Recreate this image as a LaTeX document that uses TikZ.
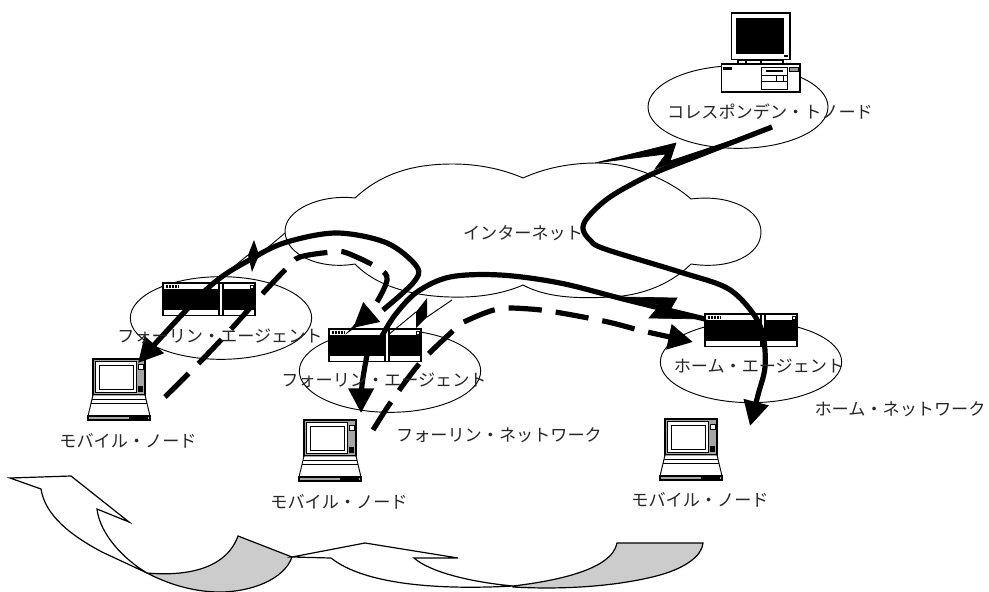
\documentclass[tikz,border=0pt]{standalone}
\usepackage{fontspec}
\setmainfont{Noto Sans CJK JP}
\usetikzlibrary{arrows.meta}
\tikzset{
  px/.style={x=0.75pt,y=-0.75pt},
  thinline/.style={draw=black,line width=0.7pt},
  thick link/.style={draw=black,line width=3.9pt,line join=round},
  dash link/.style={draw=black,line width=3.9pt,dash pattern=on 25pt off 10.5pt},
  tip/.style={-{Triangle[length=18.5pt,width=18.5pt]}},
  bolt/.style={fill=black,draw=black,line width=0.5pt,line join=miter},
  label/.style={font=\fontsize{12.85pt}{14pt}\selectfont,inner sep=0pt,text=black!85},
  ringnet/.style={thinline,ellipse},
  router/.style={draw=black,fill=white,line width=0.8pt,minimum width=69pt,minimum height=24.7pt,inner sep=0pt,outer sep=0pt},
  laptop/.style={draw=black,fill=black!35,line width=0.9pt,minimum width=39pt,minimum height=27pt,inner sep=0pt,outer sep=0pt},
  wave/.style={draw=black,line width=0.9pt,line join=miter,fill=white},
  waveshade/.style={draw=black,line width=0.9pt,line join=miter,fill=black!20}
}
\newcommand{\RouterAt}[3]{%
  \node[router,anchor=north west] (#1) at (#2,#3) {};
  \begin{scope}[shift={(#2,#3)}]
    \fill[black] (1,6) rectangle (56,27);
    \fill[black] (60,6) rectangle (91,27);
    \fill[black!45] (56,1) rectangle (57,32);
    \draw[black,line width=0.8pt] (56,0) -- (56,33) (60,0) -- (60,33);
    \draw[black,line width=1.6pt,dash pattern=on 1.5pt off 0.7pt] (3,3.5) -- (15,3.5);
    \draw[black,line width=0.5pt] (87,2) rectangle (90,5);
  \end{scope}}
\newcommand{\LaptopAt}[3]{%
  \node[laptop,anchor=north west] (#1) at (#2,#3) {};
  \begin{scope}[shift={(#2,#3)}]
    \draw[black,line width=0.7pt,fill=white] (-5,57) -- (0,36) -- (52,36) -- (57,57) -- cycle;
    \draw[black,line width=0.7pt] (-1,40) -- (53,40) (-2,44) -- (54,44);
    \fill[black!35,draw=black,line width=0.8pt] (-5,57) rectangle (57,61);
    \fill[black] (36,57) rectangle (55,61);
    \draw[black,line width=0.7pt,fill=white] (2.5,2.5) rectangle (43,33);
    \draw[black,line width=0.7pt,fill=white] (6,6) rectangle (40,30);
    \draw[black,line width=0.5pt,fill=white] (45,5) rectangle (50,10);
    \fill[black] (45,27) rectangle (50,33);
  \end{scope}}
\usetikzlibrary{shapes.geometric}
\begin{document}
\begin{tikzpicture}[px]
\useasboundingbox (0,0) rectangle (989,592);
% networks
\node[ringnet,minimum width=135pt,minimum height=62pt] (cnnet) at (738,107) {};
\node[ringnet,minimum width=136pt,minimum height=62pt] (fa1net) at (221,318) {};
\node[ringnet,minimum width=136pt,minimum height=62pt] (fa2net) at (390,371) {};
\node[ringnet,minimum width=136pt,minimum height=61pt] (hanet) at (751,362) {};
% cloud
\draw[thinline] (355,198) .. controls (385,170) and (420,164) .. (453,164)
  .. controls (480,164) and (505,170) .. (523,178)
  .. controls (545,168) and (570,163) .. (597,163)
  .. controls (630,163) and (670,180) .. (691,199)
  .. controls (730,194) and (761,210) .. (761,232)
  .. controls (761,255) and (730,270) .. (691,264)
  .. controls (670,285) and (640,296) .. (610,297)
  .. controls (575,299) and (545,297) .. (523,285)
  .. controls (505,293) and (480,298) .. (450,297)
  .. controls (410,296) and (375,285) .. (355,264)
  .. controls (320,270) and (285,255) .. (285,231)
  .. controls (285,210) and (320,194) .. (355,198);
% computer
\draw[black,line width=0.9pt,fill=white] (738,60) rectangle (783,65);
\draw[black,line width=0.8pt] (746,60) -- (746,65) (761,60) -- (761,65);
\node[draw=black,fill=white,line width=1pt,minimum width=44pt,minimum height=35pt,inner sep=0pt,outer sep=0pt] (monitor) at (760.5,36.5) {};
\fill[black] (736,18) rectangle (784,54);
\fill[black] (784,55) rectangle (788,57);
\node[draw=black,fill=white,line width=1pt,minimum width=59pt,minimum height=21pt,inner sep=0pt,outer sep=0pt] (cn) at (760.5,78) {};
\fill[black] (723,67) rectangle (732,70);
\draw[black,line width=0.6pt] (761,67) rectangle (787,89);
\fill[black] (766,70) rectangle (783,72);
\draw[black,line width=0.6pt] (761,75) -- (787,75) (761,81) -- (787,81) (776,75) rectangle (783,81);
\draw[black,line width=0.6pt,fill=black!40] (789,67) rectangle (798,71);
% routers
\RouterAt{fa1}{163}{283}
\RouterAt{fa2}{329}{329}
\RouterAt{ha}{705}{314}
% laptops
\LaptopAt{mn1}{93}{359}
\LaptopAt{mn2}{304}{420}
\LaptopAt{mn3}{665}{419}
% named ends
\coordinate (cnout) at (772,127);
\coordinate (ctip) at (750,426);
\coordinate (fa2top) at (382,336);
\coordinate (hain) at (705,319);
\coordinate (fa2r) at (383,310);
\coordinate (mn1tip) at (138,363);
\coordinate (mn1d) at (165,397);
\coordinate (fa2tip) at (353,328);
\coordinate (mn2d) at (373,430);
\coordinate (hatip) at (693,342);
\coordinate (fa2b) at (367,355);
\coordinate (mn2tip) at (361,413);
% bolts
\fill[bolt] (595,163) -- (676,143) -- (670,161) -- (cnout) -- (655,169) -- (666,154) -- cycle;
\fill[bolt] (622,297) -- (677,298) -- (670,310) -- (hain) -- (649,318) -- (660,305) -- cycle;
\draw[thinline] (285,233) -- (259,255) (208,288) -- (248,255);
\fill[black] (248,255) -- (254,240) -- (259,255) -- (252,272) -- cycle;
\draw[thinline] (452,300) -- (427,317) (388,335) -- (416,312);
\fill[black] (416,312) -- (427,298) -- (427,317) -- (416,328) -- cycle;
% links
\draw[thick link,tip] plot[smooth,tension=.55] coordinates {(cnout) (700,155) (650,175) (610,197) (588,217) (583,229) (590,240) (605,249) (680,272) (727,288) (752,312) (763,335) (765,367) (758,395) (ctip)};
\draw[thick link] plot[smooth,tension=.55] coordinates {(fa2top) (395,315) (417,292) (450,277) (500,275) (560,283) (627,300) (hain)};
\draw[thick link,tip] plot[smooth,tension=.55] coordinates {(fa2r) (413,283) (417,267) (387,243) (337,233) (287,242) (253,258) (208,288) (mn1tip)};
\draw[dash link,tip] plot[smooth,tension=.55] coordinates {(mn1d) (199,363) (233,327) (265,291) (288,267) (300,257) (332,252) (347,253) (378,268) (387,280) (373,308) (fa2tip)};
\draw[dash link,tip] plot[smooth,tension=.55] coordinates {(mn2d) (391,402) (420,363) (455,329) (466,321) (498,309) (530,309) (561,313) (608,322) (643,331) (hatip)};
\draw[thick link,tip] plot[smooth,tension=.55] coordinates {(fa2b) (362,385) (mn2tip)};
% labels
\node[label] (lcn) at (770,112) {コレスポンデン・トノード};
\node[label] (lnet) at (523,233) {インターネット};
\node[label] (lfa1) at (220,336) {フォーリン・エージェント};
\node[label] (lfa2) at (384,380) {フォーリン・エージェント};
\node[label] (lfn) at (499,435) {フォーリン・ネットワーク};
\node[label] (lha) at (759,366) {ホーム・エージェント};
\node[label] (lhn) at (900,409) {ホーム・ネットワーク};
\node[label] (lm1) at (128,441) {モバイル・ノード};
\node[label] (lm2) at (339,502) {モバイル・ノード};
\node[label] (lm3) at (700,500) {モバイル・ノード};
% curved arrows
\path[waveshade] (147,573) .. controls (180,576) and (225,572) .. (238,536) -- (292,557)
  .. controls (284,580) and (250,592) .. (220,592) .. controls (195,592) and (170,585) .. (147,573) -- cycle;
\path[wave] (10,478) -- (71,476) -- (129,522) -- (97,509)
  .. controls (100,535) and (125,560) .. (147,573)
  -- (102,552) .. controls (70,535) and (45,515) .. (41,489) -- cycle;
\path[waveshade] (513,586) .. controls (555,581) and (612,570) .. (617,543) -- (703,543)
  .. controls (702,556) and (685,568) .. (660,575) .. controls (620,586) and (565,590) .. (513,587) -- cycle;
\path[wave] (292,557) -- (365,543) -- (458,558) -- (414,558)
  .. controls (430,572) and (470,582) .. (513,586)
  .. controls (440,590) and (365,585) .. (331,558) -- (292,557) -- cycle;
\end{tikzpicture}
\end{document}
